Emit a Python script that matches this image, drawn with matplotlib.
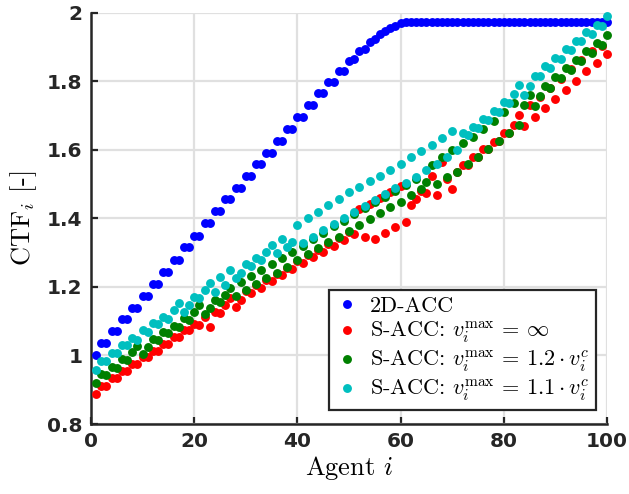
import matplotlib
matplotlib.use("Agg")
import matplotlib.pyplot as plt
import numpy as np

plt.rcParams["mathtext.fontset"] = "cm"

# Agent index
agents = np.arange(1, 101)

# CTF per agent for each controller
ctf_2d_acc = [
    1.000, 1.036, 1.036, 1.071, 1.071, 1.106, 1.106, 1.140, 1.140, 1.175,
    1.175, 1.210, 1.210, 1.245, 1.245, 1.280, 1.280, 1.317, 1.317, 1.350,
    1.350, 1.387, 1.387, 1.422, 1.422, 1.456, 1.456, 1.490, 1.490, 1.524,
    1.524, 1.558, 1.558, 1.592, 1.592, 1.626, 1.626, 1.661, 1.661, 1.696,
    1.696, 1.731, 1.731, 1.765, 1.765, 1.798, 1.798, 1.832, 1.832, 1.860,
    1.866, 1.888, 1.896, 1.915, 1.923, 1.938, 1.946, 1.957, 1.963, 1.970,
    1.975, 1.975, 1.975, 1.975, 1.975, 1.975, 1.975, 1.975, 1.975, 1.975,
    1.975, 1.975, 1.975, 1.975, 1.975, 1.975, 1.975, 1.975, 1.975, 1.975,
    1.975, 1.975, 1.975, 1.975, 1.975, 1.975, 1.975, 1.975, 1.975, 1.975,
    1.975, 1.975, 1.975, 1.975, 1.975, 1.975, 1.975, 1.975, 1.975, 1.975,
]

ctf_sacc_inf = [
    0.888, 0.911, 0.911, 0.933, 0.933, 0.955, 0.955, 0.975, 0.975, 0.995,
    0.995, 1.014, 1.014, 1.033, 1.033, 1.053, 1.053, 1.074, 1.074, 1.092,
    1.088, 1.113, 1.084, 1.128, 1.123, 1.147, 1.167, 1.142, 1.162, 1.188,
    1.182, 1.205, 1.198, 1.221, 1.218, 1.238, 1.235, 1.255, 1.252, 1.275,
    1.269, 1.292, 1.287, 1.309, 1.303, 1.326, 1.321, 1.343, 1.337, 1.360,
    1.355, 1.428, 1.347, 1.443, 1.340, 1.459, 1.358, 1.478, 1.374, 1.495,
    1.391, 1.439, 1.456, 1.481, 1.475, 1.524, 1.469, 1.566, 1.515, 1.485,
    1.536, 1.556, 1.557, 1.580, 1.580, 1.603, 1.603, 1.624, 1.625, 1.649,
    1.649, 1.674, 1.701, 1.669, 1.730, 1.696, 1.756, 1.723, 1.782, 1.750,
    1.808, 1.776, 1.837, 1.802, 1.864, 1.830, 1.888, 1.854, 1.905, 1.880,
]

ctf_sacc_12 = [
    0.921, 0.945, 0.942, 0.967, 0.964, 0.990, 0.987, 1.011, 1.028, 1.004,
    1.024, 1.047, 1.045, 1.070, 1.065, 1.086, 1.084, 1.109, 1.104, 1.128,
    1.147, 1.121, 1.138, 1.162, 1.157, 1.177, 1.196, 1.174, 1.215, 1.191,
    1.232, 1.209, 1.250, 1.225, 1.267, 1.242, 1.284, 1.259, 1.301, 1.279,
    1.321, 1.296, 1.340, 1.313, 1.359, 1.330, 1.377, 1.347, 1.393, 1.364,
    1.413, 1.381, 1.430, 1.398, 1.447, 1.415, 1.464, 1.433, 1.481, 1.449,
    1.498, 1.469, 1.514, 1.485, 1.507, 1.556, 1.500, 1.579, 1.520, 1.600,
    1.535, 1.619, 1.558, 1.639, 1.581, 1.662, 1.603, 1.685, 1.626, 1.711,
    1.649, 1.737, 1.674, 1.732, 1.760, 1.728, 1.757, 1.786, 1.781, 1.812,
    1.809, 1.840, 1.835, 1.864, 1.861, 1.890, 1.883, 1.913, 1.906, 1.937,
]

ctf_sacc_11 = [
    0.958, 0.984, 0.984, 1.008, 1.008, 1.030, 1.030, 1.052, 1.045, 1.073,
    1.068, 1.095, 1.091, 1.112, 1.107, 1.132, 1.153, 1.128, 1.146, 1.170,
    1.167, 1.191, 1.212, 1.186, 1.228, 1.206, 1.250, 1.226, 1.242, 1.267,
    1.261, 1.284, 1.279, 1.303, 1.323, 1.298, 1.339, 1.316, 1.332, 1.381,
    1.328, 1.400, 1.347, 1.420, 1.366, 1.439, 1.384, 1.457, 1.400, 1.476,
    1.420, 1.491, 1.437, 1.510, 1.454, 1.525, 1.471, 1.542, 1.488, 1.559,
    1.505, 1.579, 1.522, 1.598, 1.542, 1.615, 1.559, 1.634, 1.579, 1.654,
    1.600, 1.649, 1.644, 1.668, 1.665, 1.690, 1.688, 1.714, 1.712, 1.739,
    1.737, 1.763, 1.791, 1.760, 1.786, 1.815, 1.815, 1.844, 1.839, 1.869,
    1.866, 1.896, 1.891, 1.919, 1.917, 1.945, 1.939, 1.966, 1.961, 1.990,
]

series_labels = [
    "2D-ACC",
    r"S-ACC: $v_i^{\max}\,=\,\infty$",
    r"S-ACC: $v_i^{\max}\,=\,1.2 \cdot v_i^c$",
    r"S-ACC: $v_i^{\max}\,=\,1.1 \cdot v_i^c$",
]
series_colors = ["#0000ff", "#ff0000", "#008000", "#00bfbf"]

x_ticks = [0, 20, 40, 60, 80, 100]
y_ticks = [0.8, 1.0, 1.2, 1.4, 1.6, 1.8, 2.0]
y_tick_labels = ["0.8", "1", "1.2", "1.4", "1.6", "1.8", "2"]

fig = plt.figure(figsize=(6.29, 4.94), dpi=100)
ax = fig.add_axes([0.1447, 0.1417, 0.8204, 0.832])

for values, color, label in zip(
    [ctf_2d_acc, ctf_sacc_inf, ctf_sacc_12, ctf_sacc_11], series_colors, series_labels
):
    ax.plot(agents, values, "o", color=color, ms=6.4, mew=0, label=label,
            clip_on=False, zorder=3)

ax.set_xlim(0, 100)
ax.set_ylim(0.8, 2.0)
ax.set_xticks(x_ticks)
ax.set_yticks(y_ticks)
ax.set_yticklabels(y_tick_labels)

ax.grid(True, color="#e0e0e0", lw=1.6)
ax.set_axisbelow(True)
for side in ("top", "right"):
    ax.spines[side].set_visible(False)
for side in ("left", "bottom"):
    ax.spines[side].set_color("#262626")
    ax.spines[side].set_linewidth(1.8)

ax.tick_params(direction="in", length=5, width=1.6, color="#262626",
               labelcolor="#262626", labelsize=14.5, pad=6)
for lab in ax.get_xticklabels() + ax.get_yticklabels():
    lab.set_fontweight("bold")
    lab.set_family("DejaVu Sans")

ax.set_xlabel(r"Agent $i$", family="cmr10", fontsize=19, labelpad=2)
ax.set_ylabel(r"CTF$_i$ [-]", family="cmr10", fontsize=19, labelpad=6)

leg = ax.legend(loc="lower right", bbox_to_anchor=(0.9787, 0.034),
                borderaxespad=0, prop={"family": "cmr10", "size": 16},
                fancybox=False, framealpha=1, edgecolor="#262626",
                handlelength=1.0, handletextpad=0.55, borderpad=0.3,
                labelspacing=0.18, markerscale=1.0)
leg.get_frame().set_linewidth(1.6)

fig.savefig("out.png", dpi=100)
